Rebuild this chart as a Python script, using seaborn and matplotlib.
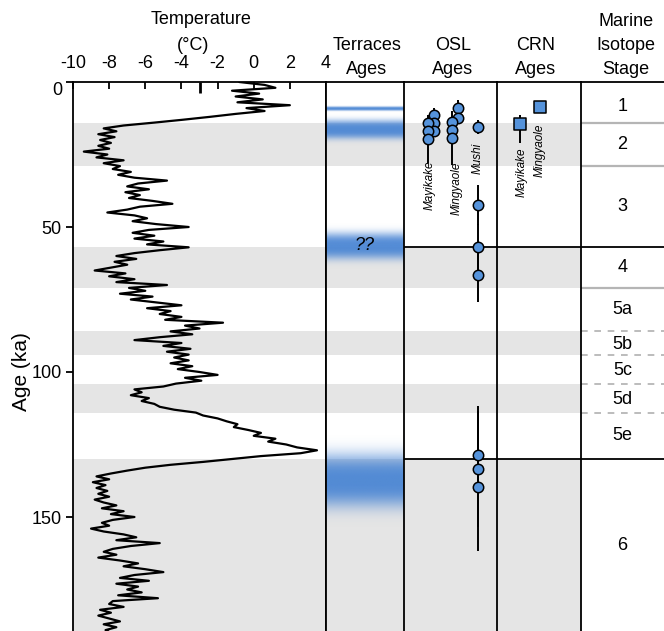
import numpy as np
import matplotlib
matplotlib.use("Agg")
import matplotlib.pyplot as plt
from matplotlib.colors import to_rgb
import seaborn as sns

# temperature reconstruction, one reading per ka starting at 0 ka
temp_c = [
    -0.8, 0.6, 1.2, -1.2, 0.3, -1.0, 0.5, -0.9, 2.0, -0.4,
    0.6, -1.0, -2.4, -3.9, -5.5, -7.2, -8.3, -7.6, -8.6, -7.7,
    -8.5, -7.9, -8.6, -8.0, -9.4, -8.1, -8.7, -7.2, -8.3, -7.4,
    -7.8, -6.8, -7.5, -6.6, -4.8, -6.4, -7.0, -5.8, -7.1, -6.3,
    -6.9, -5.6, -4.5, -6.3, -7.0, -8.1, -6.6, -5.9, -6.7, -5.4,
    -3.6, -5.8, -6.7, -5.5, -6.6, -5.0, -5.9, -3.6, -5.2, -6.6,
    -7.6, -6.5, -7.7, -7.0, -7.9, -8.8, -7.1, -8.0, -6.6, -7.6,
    -4.8, -6.9, -6.0, -7.4, -5.6, -6.8, -5.4, -4.0, -5.9, -4.6,
    -5.2, -4.0, -4.9, -1.7, -3.8, -3.0, -4.6, -3.4, -5.2, -6.6,
    -4.0, -5.0, -3.5, -4.8, -3.6, -4.4, -3.6, -4.6, -3.4, -4.2,
    -3.0, -2.0, -3.8, -2.9, -4.3, -5.0, -6.6, -6.2, -6.8, -5.8,
    -6.2, -5.5, -5.2, -4.4, -3.2, -2.8, -2.0, -1.5, -0.9, -1.1,
    -0.3, 0.4, 0.0, 1.2, 0.8, 1.8, 2.4, 3.5, 2.6, 0.4,
    -1.2, -2.8, -4.6, -6.0, -7.0, -7.9, -8.7, -8.0, -8.9, -8.2,
    -8.7, -8.1, -8.6, -8.0, -8.8, -8.3, -7.6, -8.4, -7.2, -7.9,
    -6.6, -7.8, -8.4, -8.0, -9.0, -8.3, -7.2, -6.5, -7.6, -5.2,
    -6.8, -7.8, -8.3, -7.6, -8.6, -7.4, -6.4, -7.2, -6.0, -5.0,
    -6.6, -7.4, -5.8, -7.6, -6.4, -7.0, -6.2, -7.5, -5.3, -7.8,
    -8.0, -7.2, -8.5, -7.9, -8.6, -8.0, -7.4, -8.3, -7.6, -8.2,
    -7.9,
]
age_ka = np.arange(len(temp_c))
modern_temp = -3

# marine isotope stages
glacial_bands = [(14, 29), (57, 71), (86, 94), (104, 114), (130, 200)]
mis_grey_lines = [14, 29, 71]
mis_dashed_lines = [86, 94, 104, 114]
mis_black_lines = [57, 130]
mis_labels = ["1", "2", "3", "4", "5a", "5b", "5c", "5d", "5e", "6"]
mis_label_age = [8.5, 21.5, 43, 64, 78.5, 90.5, 99.5, 109.5, 122, 160]

# terrace ages (blue bands)
terrace_center = [9.1, 16.3, 56.5, 137.5]
terrace_halfwidth = [0.7, 3.2, 4.5, 9.0]

# OSL ages (ka) and 1-sigma errors
osl_mayikake_age = [11.5, 14.0, 16.8, 14.2, 17.0, 19.7]
osl_mayikake_err = [2.5, 2.0, 2.0, 2.0, 2.0, 8.3]
osl_mayikake_lane = [1, 1, 1, 0, 0, 0]
osl_mingyaole_age = [9.0, 12.5, 13.8, 16.5, 19.3]
osl_mingyaole_err = [2.8, 2.0, 2.0, 2.0, 9.3]
osl_mingyaole_lane = [1, 1, 0, 0, 0]
osl_mushi_age = [15.5, 42.4, 57.0, 66.6, 128.6, 133.4, 139.7]
osl_mushi_err = [2.3, 7.0, 8.0, 9.4, 17.0, 20.0, 22.0]

# CRN ages
crn_sites = ["Mayikake", "Mingyaole"]
crn_age = [14.5, 8.6]
crn_err_low = [3.1, 0.8]
crn_err_high = [6.5, 0.8]

W, H = 664, 631
TOP = 82
Y_MAX = (H - TOP) / 2.9
GREY = "#e5e5e5"
BLUE = "#5593db"
TERRACE_BLUE = "#4b86d4"

sns.set_style("white")
plt.rcParams["font.family"] = ["Liberation Sans", "DejaVu Sans"]
plt.rcParams["axes.unicode_minus"] = False
plt.rcParams["axes.edgecolor"] = "black"
plt.rcParams["axes.labelcolor"] = "black"
plt.rcParams["axes.linewidth"] = 1.3
plt.rcParams["text.color"] = "black"
plt.rcParams["xtick.color"] = "black"
plt.rcParams["ytick.color"] = "black"

fig = plt.figure(figsize=(W / 100, H / 100), dpi=100)


def add_col(left, right):
    ax = fig.add_axes([left / W, 0, (right - left) / W, 1 - TOP / H])
    ax.set_ylim(Y_MAX, 0)
    for s in ["bottom", "right"]:
        ax.spines[s].set_visible(False)
    return ax


ax_t = add_col(73, 326)
ax_ter = add_col(326, 404)
ax_osl = add_col(404, 497)
ax_crn = add_col(497, 581)
ax_mis = add_col(581, 664)

for ax in [ax_t, ax_ter, ax_osl, ax_crn]:
    for lo, hi in glacial_bands:
        ax.axhspan(lo, hi, color=GREY, lw=0, zorder=0)
ax_t.spines["right"].set_visible(True)

# temperature curve
sns.lineplot(x=temp_c, y=age_ka, orient="y", estimator=None, color="black",
             lw=1.6, ax=ax_t)
ax_t.set_xlim(-10, 4)
ax_t.set_ylim(Y_MAX, 0)
ax_t.xaxis.tick_top()
ax_t.set_xticks(range(-10, 5, 2))
ax_t.set_xticks([modern_temp], minor=True)
ax_t.tick_params(axis="x", which="major", direction="in", length=5, width=1.3,
                 pad=7, labelsize=13, top=True, bottom=False)
ax_t.tick_params(axis="x", which="minor", direction="in", length=8, width=2,
                 top=True, bottom=False)
ax_t.set_yticks([0, 50, 100, 150])
ax_t.tick_params(axis="y", direction="out", length=5, width=1.3, labelsize=13,
                 pad=3, left=True)
ax_t.yaxis.get_majorticklabels()[0].set_verticalalignment("top")
ax_t.set_xlabel("")
ax_t.set_ylabel("Age (ka)", fontsize=15)
ax_t.yaxis.set_label_coords(-0.165, 0.472)

# terraces
grid = np.linspace(0, Y_MAX, 1500)
alpha = np.zeros_like(grid)
for c, w in zip(terrace_center, terrace_halfwidth):
    alpha = np.maximum(alpha, np.exp(-np.abs((grid - c) / w) ** 3))
rgba = np.zeros((grid.size, 1, 4))
rgba[..., :3] = to_rgb(TERRACE_BLUE)
rgba[..., 3] = alpha[:, None] * 0.95
ax_ter.imshow(rgba, extent=[0, 1, Y_MAX, 0], aspect="auto",
              interpolation="bilinear", zorder=2)
ax_ter.text(0.5, terrace_center[2], "??", ha="center", va="center",
            fontsize=13, style="italic", zorder=3)

# OSL
osl_lanes = {
    "Mayikake": (osl_mayikake_age, osl_mayikake_err,
                 [0.258 + 0.065 * k for k in osl_mayikake_lane]),
    "Mingyaole": (osl_mingyaole_age, osl_mingyaole_err,
                  [0.516 + 0.064 * k for k in osl_mingyaole_lane]),
    "Mushi": (osl_mushi_age, osl_mushi_err, [0.796] * len(osl_mushi_age)),
}
for name, (ages, errs, xs) in osl_lanes.items():
    ax_osl.errorbar(xs, ages, yerr=errs, fmt="none", ecolor="black",
                    elinewidth=1.4, capsize=0, zorder=3)
    sns.scatterplot(x=xs, y=ages, marker="o", s=56, color=BLUE,
                    edgecolor="black", linewidth=1.1, zorder=4, ax=ax_osl)

osl_label_pos = {"Mayikake": (0.28, 35.5), "Mingyaole": (0.57, 36.6),
                 "Mushi": (0.796, 26.2)}
for name, (x, y) in osl_label_pos.items():
    ax_osl.text(x, y, name, rotation=90, ha="center", va="center",
                fontsize=8.5, style="italic", zorder=5)

# CRN
crn_x = [0.274, 0.512]
ax_crn.errorbar(crn_x, crn_age, yerr=[crn_err_low, crn_err_high], fmt="none",
                ecolor="black", elinewidth=1.4, capsize=0, zorder=3)
sns.scatterplot(x=crn_x, y=crn_age, marker="s", s=85, color=BLUE,
                edgecolor="black", linewidth=1.1, zorder=4, ax=ax_crn)
crn_label_pos = [(0.298, 31.0), (0.512, 23.4)]
for name, (x, y) in zip(crn_sites, crn_label_pos):
    ax_crn.text(x, y, name, rotation=90, ha="center", va="center",
                fontsize=8.5, style="italic", zorder=5)

# MIS column
for y in mis_grey_lines:
    ax_mis.axhline(y, color="#b5b5b5", lw=1.6)
for y in mis_dashed_lines:
    ax_mis.axhline(y, color="#b0b0b0", lw=1.2, ls=(0, (4, 4)))
for ax in [ax_osl, ax_crn, ax_mis]:
    for y in mis_black_lines:
        ax.axhline(y, color="black", lw=1.3, zorder=2)
for lab, y in zip(mis_labels, mis_label_age):
    ax_mis.text(0.5, y, lab, ha="center", va="center", fontsize=13)

for ax in [ax_ter, ax_osl, ax_crn, ax_mis]:
    ax.set_xlim(0, 1)
    ax.set_ylim(Y_MAX, 0)
    ax.set_xticks([])
    ax.set_yticks([])
    ax.set_xlabel("")
    ax.set_ylabel("")

# header texts (pixel positions)
headers = [
    ("Temperature", 201, 19), ("(°C)", 193, 45),
    ("Terraces", 367, 46), ("Ages", 367, 70),
    ("OSL", 453, 46), ("Ages", 453, 70),
    ("CRN", 536, 46), ("Ages", 536, 70),
    ("Marine", 626, 22), ("Isotope", 626, 46), ("Stage", 626, 70),
]
for txt, px, py in headers:
    fig.text(px / W, 1 - py / H, txt, ha="center", va="center", fontsize=13)

fig.savefig("out.png", dpi=100)
